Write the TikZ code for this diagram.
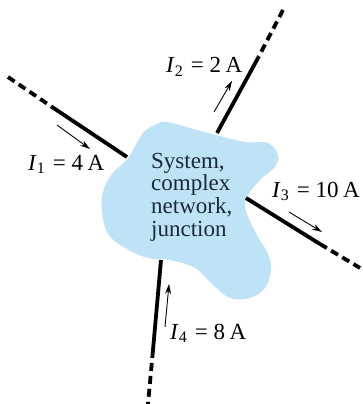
\documentclass[tikz,border=0pt]{standalone}
\usepackage{fontspec}
\setmainfont{Liberation Serif}
\usetikzlibrary{arrows.meta}
\definecolor{blobblue}{RGB}{190,227,247}
\definecolor{inktext}{RGB}{25,40,60}
\newcommand{\curlbl}[2]{\textit{I}\raisebox{-0.35ex}{\fontsize{16}{16}\selectfont #1}\hspace{0.1em}~=~#2\hspace{0.2em}A}
\tikzset{
  wire/.style={line width=3.8pt},
  wiredash/.style={line width=3.8pt, dash pattern=on 8pt off 5pt},
  flow/.style={line width=0.9pt, -{Stealth[length=10pt,width=6pt]}},
  lbl/.style={font=\fontsize{23}{24}\selectfont, anchor=base west, inner sep=0pt}
}
\begin{document}
\begin{tikzpicture}[x=1pt,y=-1pt]
  \useasboundingbox (0,0) rectangle (362,404);
  % the system blob
  \fill[blobblue] plot[smooth cycle, tension=0.6] coordinates {
    (167,122) (197,130) (220,136) (245,142) (268,143) (278,155) (275,167)
    (262,178) (249,193) (245,206) (250,221) (258,237) (268,254) (271,270)
    (265,288) (250,298) (230,298) (213,285) (195,268) (170,260) (148,258)
    (125,248) (108,234) (102,212) (103,192) (112,174) (128,158) (143,133)
    (157,124)};
  \node[font=\fontsize{23}{22.7}\selectfont, text=inktext, align=left,
        anchor=west, inner sep=0pt] (sys) at (151,197)
        {System,\\complex\\network,\\junction};
  % wire 1, into the blob
  \coordinate (w1a) at (8,77);
  \coordinate (w1b) at (52,107);
  \coordinate (w1c) at (127,157);
  \draw[wiredash] (w1a) -- (w1b);
  \draw[wire] (w1b) -- (w1c);
  \coordinate (f1a) at (57,125);
  \coordinate (f1b) at (90,149);
  \draw[flow] (f1a) -- (f1b);
  \node[lbl] (l1) at (28,170) {\curlbl{1}{4}};
  % wire 2, out of the blob
  \coordinate (w2a) at (283,10);
  \coordinate (w2b) at (258,58);
  \coordinate (w2c) at (217,133);
  \draw[wiredash] (w2a) -- (w2b);
  \draw[wire] (w2b) -- (w2c);
  \coordinate (f2a) at (214,112);
  \coordinate (f2b) at (232,81);
  \draw[flow] (f2a) -- (f2b);
  \node[lbl] (l2) at (166,73) {\curlbl{2}{2}};
  % wire 3, out of the blob
  \coordinate (w3a) at (246,198);
  \coordinate (w3b) at (320,244);
  \coordinate (w3c) at (360,268);
  \draw[wire] (w3a) -- (w3b);
  \draw[wiredash] (w3b) -- (w3c);
  \coordinate (f3a) at (289,212);
  \coordinate (f3b) at (322,232);
  \draw[flow] (f3a) -- (f3b);
  \node[lbl] (l3) at (272,197) {\curlbl{3}{10}};
  % wire 4, into the blob
  \coordinate (w4a) at (161,260);
  \coordinate (w4b) at (153,350);
  \coordinate (w4c) at (148,404);
  \draw[wire] (w4a) -- (w4b);
  \draw[wiredash] (w4b) -- (w4c);
  \coordinate (f4a) at (165,327);
  \coordinate (f4b) at (169,284);
  \draw[flow] (f4a) -- (f4b);
  \node[lbl] (l4) at (170,339) {\curlbl{4}{8}};
\end{tikzpicture}
\end{document}
